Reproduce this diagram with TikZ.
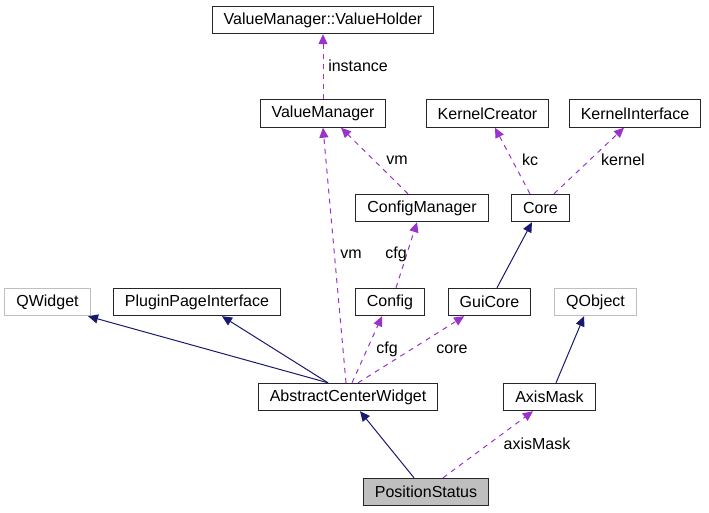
\documentclass[tikz,border=0pt]{standalone}
\usepackage{fontspec}
\setmainfont{Liberation Sans}
\usetikzlibrary{arrows.meta}

\definecolor{usecol}{HTML}{9A32CD}
\definecolor{inhcol}{HTML}{191970}
\definecolor{extgray}{HTML}{BFBFBF}

\tikzset{
  cls/.style={draw=black!85, line width=0.8pt, minimum height=20.5pt, inner xsep=8.6pt, inner ysep=0pt, font=\fontsize{12}{14}\selectfont},
  extcls/.style={cls, draw=extgray},
  inh/.style={draw=inhcol, line width=0.75pt, -{Triangle[length=7.5pt,width=6.8pt]}, inhcol},
  use/.style={draw=usecol, line width=0.75pt, dash pattern=on 3.75pt off 3.75pt, -{Triangle[length=7.5pt,width=6.8pt]}, usecol},
  lbl/.style={inner sep=0pt, font=\fontsize{12}{14}\selectfont}
}

\begin{document}
\begin{tikzpicture}[x=0.75pt, y=-0.75pt]
  \useasboundingbox (0,0) rectangle (709,513);
  % Define nodes
  \node[cls] (VH) at (323,20) {ValueManager::ValueHolder};
  \node[cls] (VM) at (323,113.5) {ValueManager};
  \node[cls] (KC) at (487.5,113.5) {KernelCreator};
  \node[cls] (KI) at (635,113.5) {KernelInterface};
  \node[cls] (CM) at (422,208) {ConfigManager};
  \node[cls] (Core) at (540.5,208) {Core};
  \node[extcls] (QW) at (47.5,302) {QWidget};
  \node[cls] (PPI) at (197,302) {PluginPageInterface};
  \node[cls] (Cfg) at (390,302) {Config};
  \node[cls] (GC) at (489.5,302) {GuiCore};
  \node[extcls] (QO) at (595.5,302) {QObject};
  \node[cls] (ACW) at (348,397) {AbstractCenterWidget};
  \node[cls] (AM) at (549.5,397) {AxisMask};
  \node[cls, fill=extgray] (PS) at (426,492) {PositionStatus};

  % Draw arrows
  \draw[use] (VM.north) -- (VH.south);
  \draw[use] ([xshift=-10.5pt]CM.north) -- ([xshift=13.5pt]VM.south);
  \draw[use] ([xshift=-7.9pt]Core.north) -- ([xshift=5.6pt]KC.south);
  \draw[use] ([xshift=10.1pt]Core.north) -- ([xshift=-8.25pt]KI.south);
  \draw[use] ([xshift=4.5pt]Cfg.north) -- ([xshift=-3.75pt]CM.south);
  \draw[inh] ([xshift=5.6pt]GC.north) -- ([xshift=-6.4pt]Core.south);
  \draw[inh] ([xshift=-15pt]ACW.north) -- ([xshift=30.4pt]QW.south);
  \draw[inh] ([xshift=-15pt]ACW.north) -- ([xshift=18.75pt]PPI.south);
  \draw[use] ([xshift=-1.5pt]ACW.north) -- (VM.south);
  \draw[use] ([xshift=3pt]ACW.north) -- ([xshift=-6pt]Cfg.south);
  \draw[use] ([xshift=7.5pt]ACW.north) -- ([xshift=-19pt]GC.south);
  \draw[inh] ([xshift=4.9pt]AM.north) -- ([xshift=-8.6pt]QO.south);
  \draw[inh] ([xshift=-9pt]PS.north) -- ([xshift=9pt]ACW.south);
  \draw[use] ([xshift=12.75pt]PS.north) -- ([xshift=-12.4pt]AM.south);

  % Labels
  \node[lbl, anchor=west] (lInst) at (328,66) {instance};
  \node[lbl] (lVm1) at (397,160) {vm};
  \node[lbl] (lKc) at (530,160) {kc};
  \node[lbl] (lKern) at (623,160) {kernel};
  \node[lbl] (lCfg1) at (396,254) {cfg};
  \node[lbl] (lVm2) at (351,254) {vm};
  \node[lbl] (lCfg2) at (387,349) {cfg};
  \node[lbl] (lCore) at (452,349) {core};
  \node[lbl] (lAxis) at (537,444) {axisMask};
\end{tikzpicture}
\end{document}
